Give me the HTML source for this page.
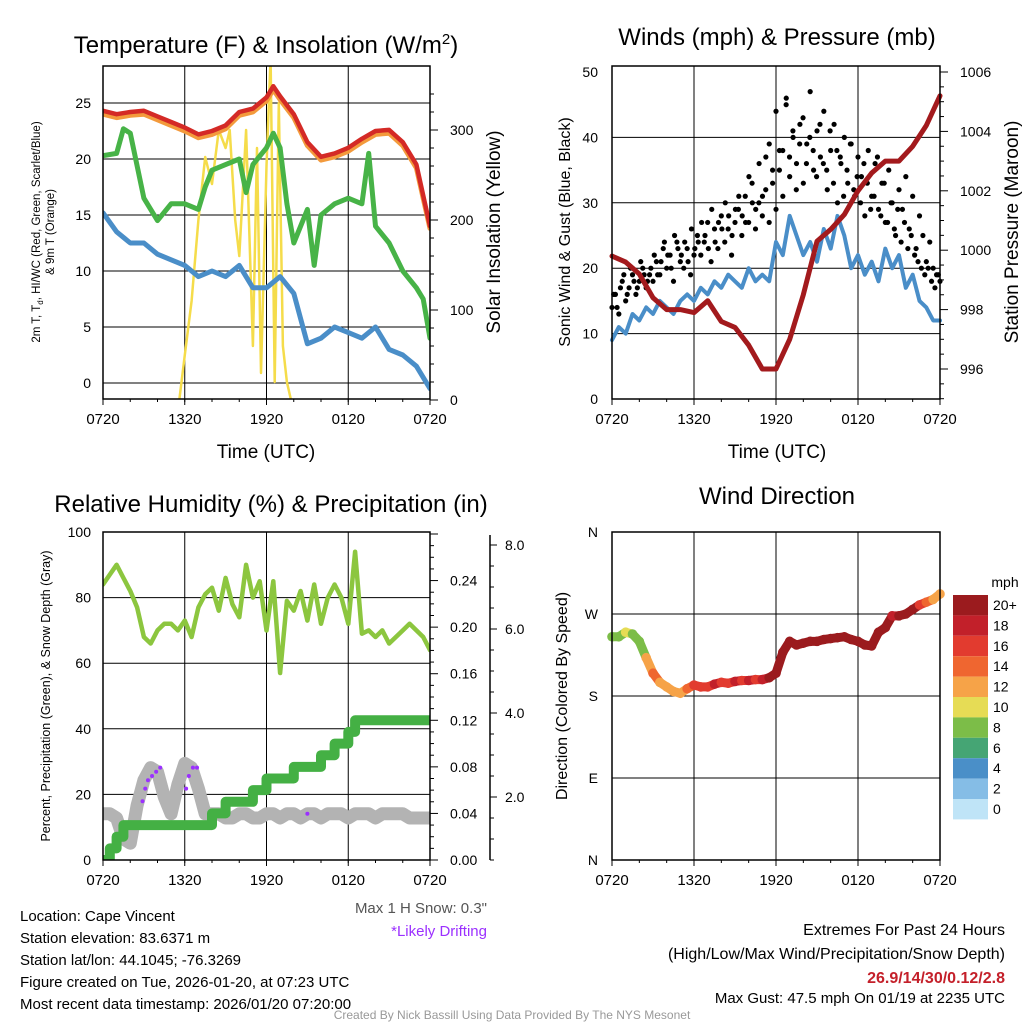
<!DOCTYPE html>
<html><head><meta charset="utf-8"><style>
html,body{margin:0;padding:0;background:#fff}
svg{display:block;font-family:"Liberation Sans",sans-serif}
</style></head><body>
<svg id="c" width="1024" height="1024" viewBox="0 0 1024 1024"></svg>
<script>
// ---------- DATA ----------
const xTickLabels=["0720","1320","1920","0120","0720"];
const hrsHalf=[];for(let i=0;i<=48;i++)hrsHalf.push(i*0.5);
const tempHours=[0,1,2,3,4,5,6,7,8,9,10,11,12,12.5,13,14,15,16,17,18,19,20,21,22,23,24];
const tempRed=[24.3,24,24.2,24.3,23.8,23.3,22.8,22.2,22.5,23.0,24.2,24.5,25.5,26.5,25.6,24.0,21.5,20.2,20.5,21,21.8,22.5,22.6,21.5,19.5,14];
const tempOrange=[24.0,23.7,23.9,24.0,23.5,23.0,22.5,21.9,22.2,22.7,23.9,24.2,25.2,26.2,25.3,23.7,21.2,19.9,20.2,20.7,21.5,22.2,22.3,21.2,19.2,13.8];
const greenHours=[0,1,1.5,2,3,4,5,6,7,7.5,8,9,10,10.5,11,12,12.5,13,13.5,14,15,15.5,16,17,18,19,19.5,20,21,22,23,23.5,24];
const tempGreen=[20.3,20.5,22.7,22.3,16.5,14.5,16,16,15.5,17.5,19,19.5,20,17,19.5,21,22.3,21,16,12.5,15.5,10.5,15,16,16.5,16,20.5,14,12.5,10,8.5,7.5,4];
const blueHours=[0,1,2,3,4,5,6,7,8,9,10,11,12,13,14,15,16,17,18,19,20,21,22,23,24];
const tempBlue=[15.2,13.5,12.5,12.5,11.5,11,10.5,9.5,10,9.5,10.5,8.5,8.5,9.5,8,3.5,4,5,4.5,4,5,3,2.5,1.5,-0.5];
const solarHours=[0,5.6,6,6.5,7,7.5,8,8.5,9,9.3,9.7,10,10.5,11,11.3,11.6,12,12.3,12.6,12.9,13.2,13.5,13.8,24];
const solarVal=[0,0,50,110,200,270,240,300,280,300,200,160,300,60,280,30,260,380,20,330,60,20,0,0];
const yTemp=[0,5,10,15,20,25];
const ySolar=[0,100,200,300];

const windHours=hrsHalf;
const sonicWind=[9,11,10,13,12,14,13,15,14,13,15,16,15,17,16,18,17,19,18,17,20,18,19,18,24,22,28,25,22,24,21,26,23,28,25,20,22,19,21,18,23,20,22,17,19,15,14,12,12];
const gust=[14,16,13,18,15,17,19,16,18,20,17,19,18,21,19,23,20,22,18,24,21,20,23,19,22,25,22,24,27,21,26,23,28,24,26,22,27,29,25,31,27,33,26,30,28,32,27,35,29,38,31,46,34,40,36,42,33,39,47,35,41,37,44,32,38,42,30,36,40,33,39,31,37,34,28,38,31,36,29,33,27,35,30,25,32,29,34,26,31,23,28,25,21,24,20,19,18];
const gust2=[16,14,17,19,16,20,18,17,21,19,18,20,22,19,21,24,22,20,25,23,22,24,21,26,23,24,27,25,23,29,24,27,26,30,28,25,29,31,28,27,34,30,29,36,31,37,39,33,44,35,38,45,37,41,32,39,43,36,40,38,34,42,36,35,41,33,38,37,31,35,39,32,34,30,36,33,29,31,37,28,33,27,30,26,29,24,27,23,25,22,21,20,19,20,18,17,19];
const presHours=[0,1,2,3,4,5,6,7,8,9,10,11,12,13,14,15,16,17,18,19,20,21,22,23,24];
const pressure=[999.8,999.6,999.2,998.4,998.0,998.0,997.9,998.3,997.6,997.4,996.8,996.0,996.0,997.0,998.5,1000.3,1000.7,1001.2,1002.0,1002.6,1003.0,1003.0,1003.5,1004.2,1005.2];
const yWind=[0,10,20,30,40,50];
const yPres=[996,998,1000,1002,1004,1006];

const rh=[84,87,90,86,82,77,68,66,70,72,72,70,73,68,77,81,83,76,86,78,74,90,80,85,70,85,57,79,76,82,73,84,72,80,84,80,72,94,69,70,68,70,66,68,70,72,70,68,64];
const precip=[0,.01,.02,.03,.03,.03,.03,.03,.03,.03,.03,.03,.03,.03,.03,.03,.04,.04,.05,.05,.05,.05,.06,.06,.07,.07,.07,.07,.08,.08,.08,.08,.09,.09,.10,.10,.11,.12,.12,.12,.12,.12,.12,.12,.12,.12,.12,.12,.12];
const snow=[1.6,1.6,1.5,1.0,0.9,1.8,2.4,2.7,2.6,2.0,1.6,2.3,2.8,2.7,2.2,1.6,1.6,1.6,1.5,1.5,1.6,1.6,1.5,1.5,1.6,1.6,1.5,1.6,1.6,1.5,1.6,1.6,1.5,1.6,1.6,1.6,1.5,1.6,1.6,1.6,1.5,1.6,1.6,1.6,1.6,1.5,1.5,1.5,1.5];
const driftHours=[2.9,3.1,3.3,3.6,3.9,4.2,6.1,6.3,6.6,6.9,15.0];
const driftSnow=[1.9,2.2,2.4,2.5,2.6,2.7,2.2,2.5,2.7,2.7,1.6];
const yRH=[0,20,40,60,80,100];
const yPrecip=["0.00","0.04","0.08","0.12","0.16","0.20","0.24"];
const ySnow=["2.0","4.0","6.0","8.0"];

const dirHours=hrsHalf;
const direction=[245,245,250,248,240,222,205,195,190,185,183,188,192,190,190,193,195,194,196,197,197,198,198,200,205,228,240,236,238,240,240,242,243,244,245,242,240,236,235,250,255,268,268,270,275,280,283,286,292];
const dirSpeed=[8,9,10,8,9,12,14,13,12,13,12,14,16,17,16,18,17,16,18,17,18,17,18,21,22,21,22,23,21,22,21,22,21,22,21,22,21,22,21,20,21,19,20,21,20,16,14,13,12];
const dirLabels=["N","E","S","W","N"];
const cbarLabels=["20+","18","16","14","12","10","8","6","4","2","0"];
const cbarColors=["#9b1b1e","#c2202a","#e23b2f","#ef6630","#f6a348","#e6dc55","#7cbd48","#45a574","#4a8fc8","#85bde6","#bfe4f7"];

// ---------- HELPERS ----------
const S=document.getElementById('c');const NS="http://www.w3.org/2000/svg";
function el(tag,attrs,parent,text){const e=document.createElementNS(NS,tag);for(const k in attrs)e.setAttribute(k,attrs[k]);if(text!==undefined)e.textContent=text;(parent||S).appendChild(e);return e;}
function lin(d0,d1,r0,r1){return v=>r0+(v-d0)*(r1-r0)/(d1-d0);}
function txt(x,y,s,size,anchor,fill,extra){const t=el('text',Object.assign({x:x,y:y,'font-size':size,'text-anchor':anchor||'start',fill:fill||'#000'},extra||{}),S,s);return t;}
function panel(name){
  const g=el('g',{},S);
  
  
  return g;
}
function frame(g,x0,x1,y0,y1){
  const xm=lin(0,24,x0,x1);
  xTickLabels.forEach((l,i)=>{const x=xm(i*6);
    const gl=el('line',{x1:x,x2:x,y1:y0,y2:y1,stroke:'#000','stroke-width':1},g);
    
    const t=el('text',{x:x,y:y1+25,'font-size':15,'text-anchor':'middle'},g,l);
    
    el('line',{x1:x,x2:x,y1:y1,y2:y1+6,stroke:'#000'},g);
  });
  for(let h=0;h<=24;h+=2)el('line',{x1:xm(h),x2:xm(h),y1:y1,y2:y1+3,stroke:'#000'},g);
  return xm;
}
function border(g,x0,x1,y0,y1){const r=el('rect',{x:x0,y:y0,width:x1-x0,height:y1-y0,fill:'none',stroke:'#000','stroke-width':1.5},g);}
function pts(hs,vs,xm,ym){return hs.map((h,i)=>xm(h).toFixed(1)+','+ym(vs[i]).toFixed(1)).join(' ');}
function line(g,name,hs,vs,xm,ym,color,w){const p=el('polyline',{points:pts(hs,vs,xm,ym),fill:'none',stroke:color,'stroke-width':w,'stroke-linejoin':'round','stroke-linecap':'round'},g);return p;}

// ---------- PANEL 1 ----------
(function(){
const x0=103,x1=430,y0=66,y1=399;
const g=panel('temperature-panel');
const ym=lin(0,25,383,103), ys=lin(0,300,400,130);
yTemp.forEach(v=>{const y=ym(v);const gl=el('line',{x1:x0,x2:x1,y1:y,y2:y,stroke:'#000'},g);
 const t=el('text',{x:x0-12,y:y+5,'font-size':14,'text-anchor':'end'},g,String(v));});
for(let v=0;v<=350;v+=20)el('line',{x1:x1,x2:x1+(v%100==0?8:4),y1:ys(v),y2:ys(v),stroke:'#000'},g);
ySolar.forEach(v=>{const t=el('text',{x:x1+20,y:ys(v)+5,'font-size':14},g,String(v));});
const xm=frame(g,x0,x1,y0,y1);
const clip=el('clipPath',{id:'cp1'},g);el('rect',{x:x0,y:y0,width:x1-x0,height:y1-y0},clip);
const cg=el('g',{'clip-path':'url(#cp1)'},g);
line(cg,'solar-line',solarHours,solarVal,xm,ys,'#f5dc4a',2.5);
line(cg,'temp-blue-line',blueHours,tempBlue,xm,ym,'#4a8ec8',5);
line(cg,'temp-green-line',greenHours,tempGreen,xm,ym,'#47b347',5);
line(cg,'temp-orange-line',tempHours,tempOrange,xm,ym,'#f39a3c',5);
line(cg,'temp-red-line',tempHours,tempRed,xm,ym,'#d42a26',4.5);
border(g,x0,x1,y0,y1);
const t=txt(266,53,'Temperature (F) & Insolation (W/m',24,'middle');el('tspan',{dy:-9,'font-size':15},t,'2');el('tspan',{dy:9},t,')');

const a=txt(266,458,'Time (UTC)',19,'middle');
const yl=el('text',{transform:'translate(40,232) rotate(-90)','font-size':11.5,'text-anchor':'middle'},S);
const l1=el('tspan',{x:0,dy:0},yl,'2m T, T');el('tspan',{dy:3,'font-size':8},yl,'d');el('tspan',{dy:-3},yl,', HI/WC (Red, Green, Scarlet/Blue)');
el('tspan',{x:0,dy:14},yl,'& 9m T (Orange)');

const yr=el('text',{transform:'translate(500,232) rotate(-90)','font-size':19,'text-anchor':'middle'},S,'Solar Insolation (Yellow)');

})();

// ---------- PANEL 2 ----------
(function(){
const x0=612,x1=940,y0=66,y1=399;
const g=panel('wind-panel');
const ym=lin(0,50,399,72), yp=lin(996,1006,369,72);
yWind.forEach(v=>{const y=ym(v);if(v>0&&v<50){const gl=el('line',{x1:x0,x2:x1,y1:y,y2:y,stroke:'#000'},g);}
 const t=el('text',{x:x0-14,y:y+5,'font-size':14,'text-anchor':'end'},g,String(v));});
for(let v=995;v<=1006.2;v+=0.5)el('line',{x1:x1,x2:x1+(Math.abs(v%2)<0.01?8:4),y1:yp(v),y2:yp(v),stroke:'#000'},g);
yPres.forEach(v=>{const t=el('text',{x:x1+20,y:yp(v)+5,'font-size':14},g,String(v));});
const xm=frame(g,x0,x1,y0,y1);
line(g,'sonic-wind-line',windHours,sonicWind,xm,ym,'#4a8ec8',4);
gust.forEach((v,i)=>{const c=el('circle',{cx:xm(i*24/(gust.length-1)),cy:ym(v),r:2.6,fill:'#000'},g);
 });
gust2.forEach((v,i)=>{const c=el('circle',{cx:xm((i+0.5)*24/(gust2.length)),cy:ym(v),r:2.6,fill:'#000'},g);
 });
line(g,'pressure-line',presHours,pressure,xm,yp,'#a31a1d',5);
border(g,x0,x1,y0,y1);
const t=txt(777,45,'Winds (mph) & Pressure (mb)',24,'middle');
const a=txt(777,458,'Time (UTC)',19,'middle');
const yl=el('text',{transform:'translate(570,232) rotate(-90)','font-size':16,'text-anchor':'middle'},S,'Sonic Wind & Gust (Blue, Black)');

const yr=el('text',{transform:'translate(1018,232) rotate(-90)','font-size':19,'text-anchor':'middle'},S,'Station Pressure (Maroon)');

})();

// ---------- PANEL 3 ----------
(function(){
const x0=103,x1=430,y0=532,y1=860;
const g=panel('humidity-panel');
const ym=lin(0,100,860,532), yq=lin(0,0.28,860,534), yn=lin(0,8,881,545);
yRH.forEach(v=>{const y=ym(v);if(v>0&&v<100){const gl=el('line',{x1:x0,x2:x1,y1:y,y2:y,stroke:'#000'},g);}
 const t=el('text',{x:x0-12,y:y+5,'font-size':14,'text-anchor':'end'},g,String(v));});
for(let i=0;i<=28;i++)el('line',{x1:x1,x2:x1+(i%4==0?8:4),y1:yq(i/100),y2:yq(i/100),stroke:'#000'},g);
yPrecip.forEach(v=>{const t=el('text',{x:x1+20,y:yq(+v)+5,'font-size':14},g,v);});
const ax=el('line',{x1:490,x2:490,y1:535,y2:860,stroke:'#000','stroke-width':1.5},g);
for(let v=0.5;v<=8.3;v+=0.5)el('line',{x1:490,x2:490+(Math.abs(v%2)<0.01?7:4),y1:yn(v),y2:yn(v),stroke:'#000'},g);
ySnow.forEach(v=>{const t=el('text',{x:505,y:yn(+v)+5,'font-size':14},g,v);});
const xm=frame(g,x0,x1,y0,y1);
const clip=el('clipPath',{id:'cp3'},g);el('rect',{x:x0,y:y0,width:x1-x0,height:y1-y0},clip);
const cg=el('g',{'clip-path':'url(#cp3)'},g);
line(cg,'snow-depth-line',hrsHalf,snow,xm,yn,'#b3b3b3',13);
driftHours.forEach((h,i)=>{const c=el('circle',{cx:xm(h),cy:yn(driftSnow[i]),r:2,fill:'#9b30ff'},cg);});
let sp=[];precip.forEach((v,i)=>{const x=xm(hrsHalf[i]);if(i>0)sp.push(x.toFixed(1)+','+yq(precip[i-1]).toFixed(1));sp.push(x.toFixed(1)+','+yq(v).toFixed(1));});
const pl=el('polyline',{points:sp.join(' '),fill:'none',stroke:'#44b044','stroke-width':10,'stroke-linecap':'round','stroke-linejoin':'round'},cg);

line(cg,'rh-line',hrsHalf,rh,xm,ym,'#8cc63f',4.5);
border(g,x0,x1,y0,y1);
const t=txt(271,512,'Relative Humidity (%) & Precipitation (in)',24,'middle');
const yl=el('text',{transform:'translate(50,696) rotate(-90)','font-size':12.5,'text-anchor':'middle'},S,'Percent, Precipitation (Green), & Snow Depth (Gray)');

})();

// ---------- PANEL 4 ----------
(function(){
const x0=612,x1=940,y0=532,y1=860;
const g=panel('wind-direction-panel');
const ym=lin(0,360,860,532);
dirLabels.forEach((l,i)=>{const y=ym(i*90);if(i>0&&i<4){const gl=el('line',{x1:x0,x2:x1,y1:y,y2:y,stroke:'#000'},g);}
 const t=el('text',{x:x0-14,y:y+5,'font-size':14,'text-anchor':'end'},g,l);});
const xm=frame(g,x0,x1,y0,y1);
function col(s){let idx=Math.min(10,Math.floor(s/2));return cbarColors[10-idx];}
for(let i=0;i<direction.length;i++){
  const x=xm(dirHours[i]),y=ym(direction[i]);
  if(i<direction.length-1){const s=el('line',{x1:x,y1:y,x2:xm(dirHours[i+1]),y2:ym(direction[i+1]),stroke:col(dirSpeed[i]),'stroke-width':9,'stroke-linecap':'round'},g);
   }
  const c=el('circle',{cx:x,cy:y,r:4.8,fill:col(dirSpeed[i])},g);
}
border(g,x0,x1,y0,y1);
const t=txt(777,504,'Wind Direction',24,'middle');
const yl=el('text',{transform:'translate(567,696) rotate(-90)','font-size':16,'text-anchor':'middle'},S,'Direction (Colored By Speed)');

const cb=el('g',{},S);
el('text',{x:1005,y:587,'font-size':14,'text-anchor':'middle'},cb,'mph');
cbarLabels.forEach((l,i)=>{const y=595+i*20.4;
 const r=el('rect',{x:953,y:y,width:35,height:20.4,fill:cbarColors[i]},cb);
 const tt=el('text',{x:993,y:y+15,'font-size':14},cb,l);});
})();

// ---------- FOOTER TEXT ----------
const info=["Location: Cape Vincent","Station elevation: 83.6371 m","Station lat/lon: 44.1045; -76.3269","Figure created on Tue, 2026-01-20, at 07:23 UTC","Most recent data timestamp: 2026/01/20 07:20:00"];
info.forEach((s,i)=>{const t=txt(20,921+i*22,s,15);});
let t=txt(487,913,'Max 1 H Snow: 0.3"',15,'end','#555');
t=txt(487,936,'*Likely Drifting',15,'end','#9b30ff');
t=txt(1005,935,'Extremes For Past 24 Hours',16,'end');
t=txt(1005,959,'(High/Low/Max Wind/Precipitation/Snow Depth)',16,'end');
t=txt(1005,983,'26.9/14/30/0.12/2.8',16,'end','#c4202a',{'font-weight':'bold'});
t=txt(1005,1003,'Max Gust: 47.5 mph On 01/19 at 2235 UTC',15,'end');
t=txt(512,1019,'Created By Nick Bassill Using Data Provided By The NYS Mesonet',12,'middle','#999');
</script>
</body></html>
